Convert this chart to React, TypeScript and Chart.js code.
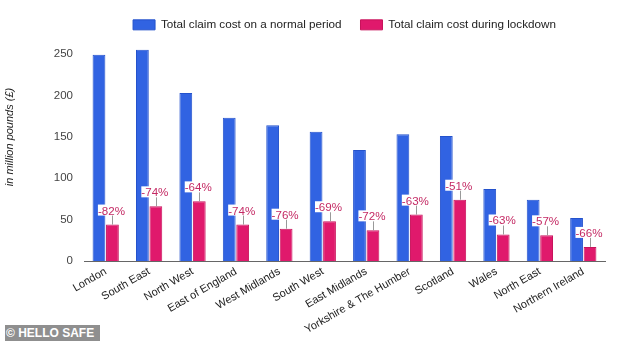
import React, { useEffect, useRef } from "react";
import { Chart, registerables } from "chart.js";

Chart.register(...registerables);

const categories = [
  "London",
  "South East",
  "North West",
  "East of England",
  "West Midlands",
  "South West",
  "East Midlands",
  "Yorkshire & The Humber",
  "Scotland",
  "Wales",
  "North East",
  "Northern Ireland",
];
const normalPeriod = [249, 255, 203, 173, 164, 156, 134, 153, 151, 87, 74, 52];
const lockdownPeriod = [44, 66, 72, 44, 39, 48, 37, 56, 74, 32, 31, 17];
const changeLabels = ["-82%", "-74%", "-64%", "-74%", "-76%", "-69%", "-72%", "-63%", "-51%", "-63%", "-57%", "-66%"];
const yTicks = [0, 50, 100, 150, 200, 250];
const yAxisTitle = "in million pounds (£)";

const FONT = "Arial, 'Liberation Sans', sans-serif";

const annotationPlugin = {
  id: "annot",
  afterLayout(chart: any) {
    const ca = chart.chartArea;
    if (chart.legend) {
      chart.legend.left = ca.left;
      chart.legend.right = ca.right;
    }
  },
  afterDraw(chart: any) {
    const ctx = chart.ctx;
    ctx.save();
    ctx.translate(10, 137);
    ctx.rotate(-Math.PI / 2);
    ctx.font = `italic 11px ${FONT}`;
    ctx.fillStyle = "#222222";
    ctx.textAlign = "center";
    ctx.textBaseline = "middle";
    ctx.fillText(yAxisTitle, 0, 0);
    ctx.restore();
  },
  afterDatasetsDraw(chart: any) {
    const ctx = chart.ctx;
    const meta = chart.getDatasetMeta(1);
    ctx.save();
    ctx.font = `11.6px ${FONT}`;
    ctx.textAlign = "center";
    ctx.textBaseline = "alphabetic";
    meta.data.forEach((bar: any, i: number) => {
      const x = bar.x;
      const top = bar.y;
      ctx.strokeStyle = "#999999";
      ctx.lineWidth = 1;
      ctx.beginPath();
      ctx.moveTo(Math.round(x) + 0.5, top);
      ctx.lineTo(Math.round(x) + 0.5, top - 10);
      ctx.stroke();
      const txt = changeLabels[i];
      const w = ctx.measureText(txt).width;
      const tx = x - 1;
      const baseY = top - 10;
      ctx.fillStyle = "#ffffff";
      ctx.fillRect(tx - w / 2, baseY - 10, w, 11);
      ctx.fillStyle = "#c42a64";
      ctx.fillText(txt, tx, baseY);
    });
    ctx.restore();
  },
};

export default function App() {
  const ref = useRef<HTMLCanvasElement>(null);
  useEffect(() => {
    document.body.style.margin = "0";
    const chart = new Chart(ref.current as HTMLCanvasElement, {
      type: "bar",
      data: {
        labels: categories,
        datasets: [
          {
            label: "Total claim cost on a normal period",
            data: normalPeriod,
            backgroundColor: "#3163e2",
            borderColor: "#2452cc",
            borderWidth: 1,
            barPercentage: 0.95,
            categoryPercentage: 0.62,
          },
          {
            label: "Total claim cost during lockdown",
            data: lockdownPeriod,
            backgroundColor: "#e0196c",
            borderColor: "#c8135c",
            borderWidth: 1,
            barPercentage: 0.95,
            categoryPercentage: 0.62,
          },
        ],
      },
      options: {
        responsive: false,
        animation: false,
        layout: { padding: { left: 0, right: 29, top: 0, bottom: 0 } },
        plugins: {
          tooltip: { enabled: false },
          legend: {
            position: "top",
            labels: {
              boxWidth: 22,
              boxHeight: 10,
              padding: 19,
              color: "#222222",
              font: { size: 11.7, family: FONT },
            },
          },
        },
        scales: {
          x: {
            grid: { display: false, drawTicks: false },
            border: { display: true, color: "#666666", width: 1 },
            ticks: {
              color: "#222222",
              font: { size: 11, family: FONT },
              minRotation: 30,
              maxRotation: 30,
              autoSkip: false,
              padding: 4,
            },
            afterFit(scale: any) {
              scale.height = 80;
            },
          },
          y: {
            min: 0,
            max: 266,
            grid: { display: false, drawTicks: false },
            border: { display: false },
            afterBuildTicks(scale: any) {
              scale.ticks = yTicks.map((v) => ({ value: v }));
            },
            ticks: {
              color: "#444444",
              font: { size: 11.5, family: FONT },
              padding: 11,
            },
            afterFit(scale: any) {
              scale.width = 84;
            },
          },
        },
      },
      plugins: [annotationPlugin],
    });
    return () => chart.destroy();
  }, []);
  return (
    <div style={{ position: "relative", width: 634, height: 341, background: "#fff" }}>
      <canvas ref={ref} width={634} height={341} style={{ display: "block" }} />
      <div
        style={{
          position: "absolute",
          left: 5,
          top: 325,
          width: 95,
          height: 16,
          background: "#8f8f8f",
          color: "#ffffff",
          fontFamily: FONT,
          fontWeight: "bold",
          fontSize: 12,
          lineHeight: "16px",
          paddingLeft: 1,
          boxSizing: "border-box",
          whiteSpace: "nowrap",
        }}
      >
        © HELLO SAFE
      </div>
    </div>
  );
}
